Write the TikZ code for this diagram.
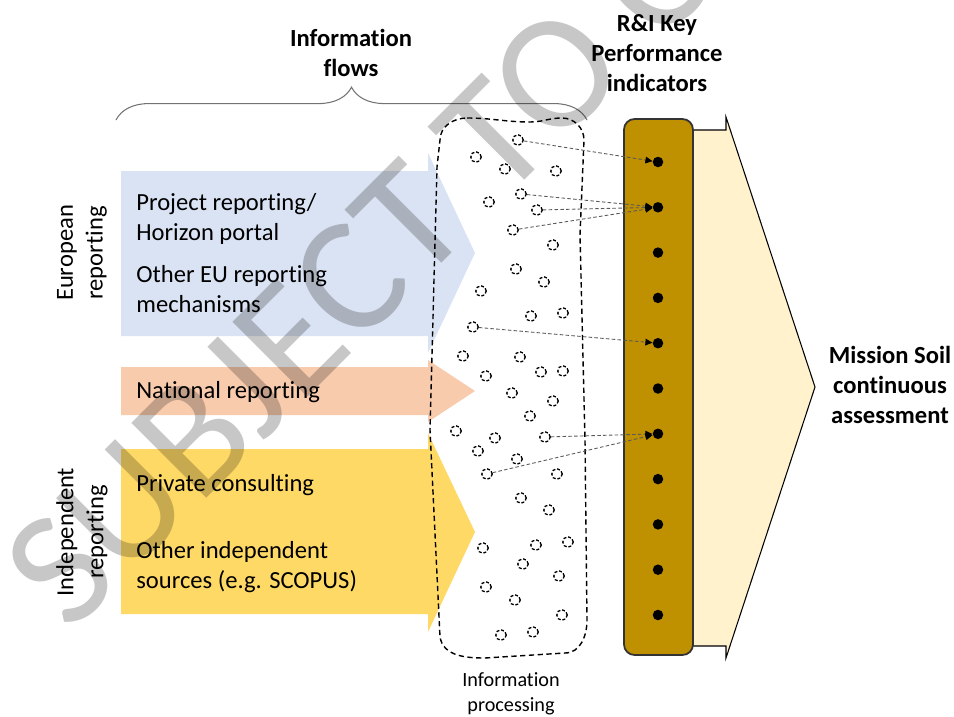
\documentclass[tikz,border=0pt]{standalone}
\usepackage{fontspec}
\setmainfont{Carlito}[Ligatures=NoCommon]
\newfontfamily\markfont{Carlito}[Ligatures=NoCommon]
\usetikzlibrary{arrows.meta,positioning,decorations.pathreplacing}
\definecolor{eublue}{RGB}{218,227,243}
\definecolor{natorange}{RGB}{248,203,173}
\definecolor{indyellow}{RGB}{255,217,102}
\definecolor{kpigold}{RGB}{191,144,0}
\definecolor{misscream}{RGB}{255,242,204}

\begin{document}
\begin{tikzpicture}[x=0.02cm,y=-0.02cm,
  flowtext/.style={font=\fontsize{14}{17}\selectfont,align=left,anchor=base west,inner sep=0},
  heading/.style={font=\fontsize{14}{17}\selectfont\bfseries,align=center,inner sep=0},
  sidetext/.style={font=\fontsize{14}{17}\selectfont,align=center,inner sep=0,rotate=90},
  proctext/.style={font=\fontsize{11.5}{14}\selectfont,align=center,inner sep=0},
  datum/.style={draw,circle,dash pattern=on 1.7pt off 1.1pt,line width=0.75pt,minimum size=0.21cm,inner sep=0},
  kpi/.style={circle,fill=black,minimum size=0.21cm,inner sep=0},
  link/.style={dash pattern=on 2pt off 1.3pt,line width=0.5pt,draw=black!65,
    -{Triangle[length=4pt,width=3.8pt,color=black]}}]
  \useasboundingbox (0,0) rectangle (954,717);

  % information flows
  \fill[eublue] (121,171) -- (428,171) -- (428,153) -- (475,253) -- (428,353) -- (428,336) -- (121,336) -- cycle;
  \fill[natorange] (121,367) -- (428,367) -- (428,360) -- (475,391) -- (428,422) -- (428,415) -- (121,415) -- cycle;
  \fill[indyellow] (121,449) -- (428,449) -- (428,433) -- (475,532) -- (428,632) -- (428,614) -- (121,614) -- cycle;
  \node[flowtext] (proj) at (136,240) {Project reporting/\\Horizon portal};
  \node[flowtext] (otheu) at (136,312) {Other EU reporting\\mechanisms};
  \node[flowtext] (nat) at (136,398) {National reporting};
  \node[flowtext] (priv) at (136,491) {Private consulting};
  \node[flowtext] (othind) at (136,588) {Other independent\\sources (e.g. SCOPUS)};
  \node[sidetext] (eurep) at (82,253) {European\\reporting};
  \node[sidetext] (indrep) at (82,532) {Independent\\reporting};
  \draw[black!55,line width=0.6pt,decorate,decoration={brace,amplitude=18.7pt}] (116,120) -- (587,120);
  \node[heading] (flows) at (351,53) {Information\\flows};

  % processing cloud
  \draw[line width=0.8pt,dash pattern=on 3pt off 2pt] (467,118) to[out=0,in=180] (530,122)
    to[out=0,in=180] (562,118) to[out=0,in=90] (584,140) -- (580,235) -- (585,440) -- (587,620)
    to[out=-90,in=0] (565,653) -- (485,658) to[out=180,in=-80] (440,637) -- (430,430)
    -- (437,167) -- (440,140) to[out=90,in=180] (467,118);
  \foreach \x/\y [count=\i] in {518/140,476/157,505/169,556/171,521/194,489/202,537/210,
      513/230,553/245,516/269,544/282,481/291,531/316,563/313,473/327,463/356,520/357,
      486/376,541/372,563/371,512/393,553/401,530/416,456/431,495/438,545/437,478/451,
      517/459,487/474,557/474,521/498,549/510,483/548,536/545,568/542,523/564,559/576,
      486/587,515/600,562/615,501/635,533/632}
    \node[datum] (p\i) at (\x,\y) {};
  \node[proctext] (proc) at (511,694) {Information\\processing};

  % KPIs and assessment
  \draw[fill=misscream,line width=0.6pt] (680,130) -- (726,130) -- (726,117) -- (815,387)
    -- (726,658) -- (726,646) -- (680,646);
  \draw[fill=kpigold,draw=black!80,line width=1pt,rounded corners=6pt] (624,119) rectangle (693,655);
  \foreach \i in {1,...,11}
    \node[kpi] (k\i) at (658,{162+45.3*(\i-1)}) {};
  \node[heading] (kpititle) at (657,53) {R\&I Key\\Performance\\indicators};
  \node[heading] (mission) at (890,385) {Mission Soil\\continuous\\assessment};

  \draw[link] (p1) -- (k1);
  \draw[link] (p5) -- (k2);
  \draw[link] (p7) -- (k2);
  \draw[link] (p8) -- (k2);
  \draw[link] (p15) -- (k5);
  \draw[link] (p26) -- (k7);
  \draw[link] (p29) -- (k7);

  % watermark
  \begin{scope}
    \clip (0,0) rectangle (954,717);
    \node[font=\markfont\fontsize{94}{94}\selectfont,text=black,text opacity=0.22,
      rotate=45,anchor=base west,inner sep=0] (mark) at (70,635) {SUBJECT TO C};
  \end{scope}
\end{tikzpicture}
\end{document}
